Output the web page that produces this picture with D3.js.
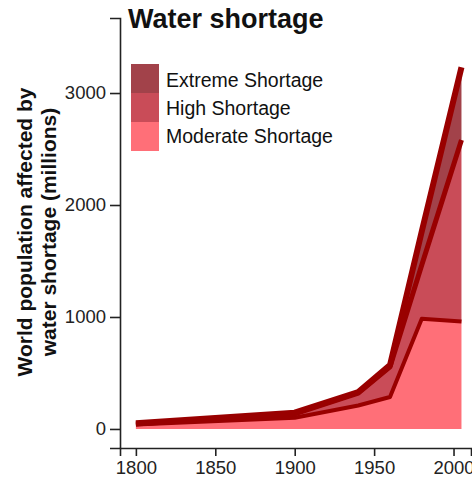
<!DOCTYPE html>
<html>
<head>
<meta charset="utf-8">
<script src="https://cdn.jsdelivr.net/npm/d3@7"></script>
<style>
  body { margin: 0; background: #fff; }
  text { font-family: "Liberation Sans", Arial, sans-serif; }
</style>
</head>
<body>
<div id="chart"></div>
<script>
// values (millions of people, per layer, not cumulative)
var years    = [1800, 1900, 1940, 1960, 1980, 2005];
var moderate = [40, 100, 210, 285, 985, 960];
var high     = [5, 35, 110, 270, 480, 1620];
var extreme  = [5, 10, 10, 15, 300, 650];

var layerKeys   = ["moderate", "high", "extreme"];
var layerNames  = ["Moderate Shortage", "High Shortage", "Extreme Shortage"];
var layerColors = ["#ff6f78", "#c94c58", "#a2424a"];
var lineWidths  = [4, 5, 6];

var yTicks = [0, 1000, 2000, 3000];
var xTicks = [1800, 1850, 1900, 1950, 2000];

var W = 472, H = 482;
var svg = d3.select("#chart").append("svg").attr("width", W).attr("height", H);

var x = d3.scaleLinear().domain([1790, 2011]).range([120, 471]);
var y = d3.scaleLinear().domain([-170, 3670]).range([448, 18]);

var rows = years.map(function(yr, i) {
  return { year: yr, moderate: moderate[i], high: high[i], extreme: extreme[i] };
});
var series = d3.stack().keys(layerKeys)(rows);

var area = d3.area()
  .x(function(d) { return x(d.data.year); })
  .y0(function(d) { return y(d[0]); })
  .y1(function(d) { return y(d[1]); });

var topLine = d3.line()
  .x(function(d) { return x(d.data.year); })
  .y(function(d) { return y(d[1]); });

svg.selectAll("path.area")
  .data(series)
  .enter().append("path")
  .attr("class", "area")
  .attr("d", area)
  .attr("fill", function(d, i) { return layerColors[i]; });

svg.selectAll("path.edge")
  .data(series)
  .enter().append("path")
  .attr("class", "edge")
  .attr("d", topLine)
  .attr("fill", "none")
  .attr("stroke", "#990000")
  .attr("stroke-width", function(d, i) { return lineWidths[i]; })
  .attr("stroke-linejoin", "round");

// axes
var yAxis = svg.append("g")
  .attr("transform", "translate(120,0)")
  .call(d3.axisLeft(y).tickValues(yTicks).tickFormat(d3.format("d")).tickSizeOuter(0).tickSize(10).tickPadding(4));
var xAxis = svg.append("g")
  .attr("transform", "translate(0,448)")
  .call(d3.axisBottom(x).tickValues(xTicks).tickFormat(d3.format("d")).tickSizeOuter(0).tickSize(8).tickPadding(5));

[yAxis, xAxis].forEach(function(g) {
  g.selectAll("path, line").attr("stroke", "#222").attr("stroke-width", 1.6);
  g.selectAll("text")
    .attr("fill", "#222")
    .style("font-family", "Liberation Sans, Arial, sans-serif")
    .style("font-size", "18.5px");
});

// title
svg.append("text")
  .attr("x", 128).attr("y", 28)
  .attr("font-size", 27).attr("font-weight", "bold")
  .attr("fill", "#111")
  .text("Water shortage");

// y label (two lines)
var yl = svg.append("text")
  .attr("transform", "translate(32,232) rotate(-90)")
  .attr("text-anchor", "middle")
  .attr("font-size", 21).attr("font-weight", "bold")
  .attr("fill", "#111");
yl.append("tspan").attr("x", 0).attr("y", 0).text("World population affected by");
yl.append("tspan").attr("x", 0).attr("y", 24).text("water shortage (millions)");

// legend, top entry is the top layer
var legendOrder = [2, 1, 0];
var leg = svg.append("g").attr("transform", "translate(131,64)");
leg.selectAll("rect")
  .data(legendOrder)
  .enter().append("rect")
  .attr("x", 0).attr("y", function(d, i) { return i * 29; })
  .attr("width", 28).attr("height", 29)
  .attr("fill", function(d) { return layerColors[d]; });
leg.selectAll("text")
  .data(legendOrder)
  .enter().append("text")
  .attr("x", 35).attr("y", function(d, i) { return i * 28 + 23; })
  .attr("font-size", 19.5)
  .attr("fill", "#111")
  .text(function(d) { return layerNames[d]; });
</script>
</body>
</html>
